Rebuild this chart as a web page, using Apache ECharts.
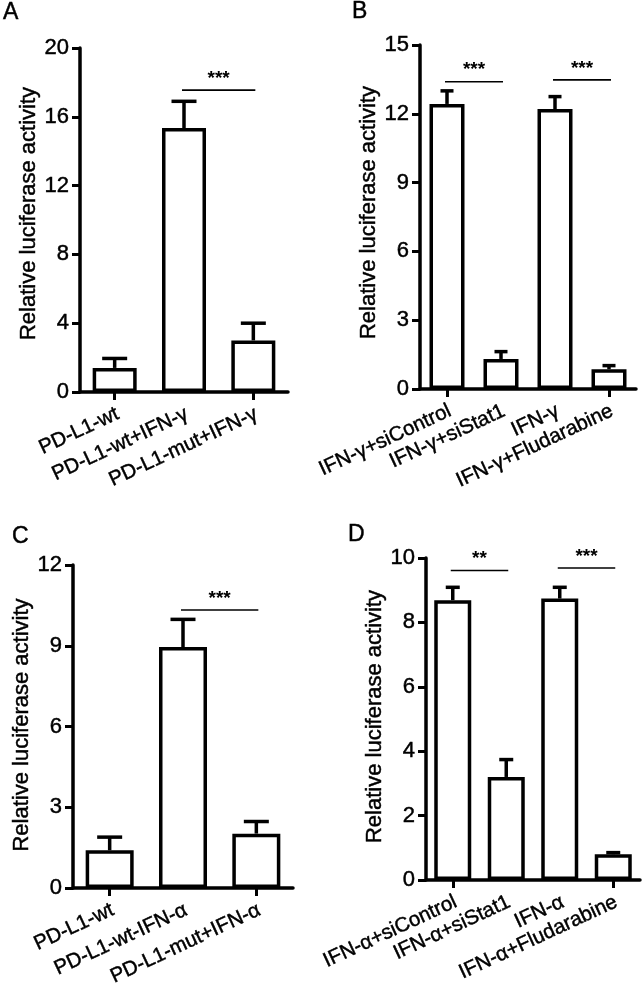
<!DOCTYPE html>
<html>
<head>
<meta charset="utf-8">
<script src="https://cdn.jsdelivr.net/npm/echarts@6/dist/echarts.min.js"></script>
<style>
html,body{margin:0;padding:0;background:#fff;}
#chart{width:643px;height:997px;}
</style>
</head>
<body>
<div id="chart"></div>
<script>
// ---- Data ----
const categoriesA = ['PD-L1-wt', 'PD-L1-wt+IFN-γ', 'PD-L1-mut+IFN-γ'];
const valuesA = [1.4, 15.35, 3.0];
const errorsA = [0.55, 1.55, 1.0];
const ticksA = [0, 4, 8, 12, 16, 20];

const categoriesB = ['IFN-γ+siControl', 'IFN-γ+siStat1', 'IFN-γ', 'IFN-γ+Fludarabine'];
const valuesB = [12.43, 1.31, 12.21, 0.86];
const errorsB = [0.57, 0.32, 0.54, 0.16];
const ticksB = [0, 3, 6, 9, 12, 15];

const categoriesC = ['PD-L1-wt', 'PD-L1-wt-IFN-α', 'PD-L1-mut+IFN-α'];
const valuesC = [1.40, 8.95, 2.02];
const errorsC = [0.49, 1.03, 0.45];
const ticksC = [0, 3, 6, 9, 12];

const categoriesD = ['IFN-α+siControl', 'IFN-α+siStat1', 'IFN-α', 'IFN-α+Fludarabine'];
const valuesD = [8.69, 3.20, 8.74, 0.80];
const errorsD = [0.40, 0.54, 0.35, 0.05];
const ticksD = [0, 2, 4, 6, 8, 10];

// significance brackets: [fromIndex, toIndex, level]
const sigA = [[1, 2, 17.55]];
const sigLabelsA = ['***'];
const sigB = [[0, 1, 13.4], [2, 3, 13.48]];
const sigLabelsB = ['***', '***'];
const sigC = [[1, 2, 10.33]];
const sigLabelsC = ['***'];
const sigD = [[0, 1, 9.61], [2, 3, 9.69]];
const sigLabelsD = ['**', '***'];

const yName = 'Relative luciferase activity';
const panelLetters = ['A', 'B', 'C', 'D'];

// ---- Build ----
const FONT = '"Liberation Sans", Arial, sans-serif';
const panels = [
  {cats: categoriesA, vals: valuesA, errs: errorsA, ticks: ticksA, sig: sigA, sigL: sigLabelsA,
   grid: {left: 80, top: 48, width: 208, height: 344}, barW: 44, cap: 25, nameGap: 37, nameShift: 13},
  {cats: categoriesB, vals: valuesB, errs: errorsB, ticks: ticksB, sig: sigB, sigL: sigLabelsB,
   grid: {left: 420, top: 45, width: 216, height: 344}, barW: 35, cap: 13, nameGap: 32, nameShift: 9},
  {cats: categoriesC, vals: valuesC, errs: errorsC, ticks: ticksC, sig: sigC, sigL: sigLabelsC,
   grid: {left: 73, top: 565, width: 220, height: 323}, barW: 48, cap: 25, nameGap: 28, nameShift: 3},
  {cats: categoriesD, vals: valuesD, errs: errorsD, ticks: ticksD, sig: sigD, sigL: sigLabelsD,
   grid: {left: 426, top: 558, width: 214, height: 322}, barW: 37, cap: 14, nameGap: 36, nameShift: 5}
];
const letterPos = [[3, 1], [352, 0], [12, 525], [348, 523]];
const heavy = {textBorderColor: '#000', textBorderWidth: 0.45};
const LABEL_ANGLE = 25 * Math.PI / 180;

const option = {
  backgroundColor: '#fff',
  animation: false,
  title: panelLetters.map((t, i) => ({
    text: t, left: letterPos[i][0], top: letterPos[i][1], padding: 0,
    textStyle: Object.assign({fontFamily: FONT, fontSize: 23, fontWeight: 'normal', color: '#000'}, heavy)
  })),
  grid: panels.map(p => p.grid),
  xAxis: panels.map((p, i) => ({
    type: 'category', gridIndex: i, data: p.cats,
    axisLine: {lineStyle: {color: '#000', width: 3.5}},
    axisTick: {show: true, alignWithLabel: true, length: 8, lineStyle: {color: '#000', width: 3}},
    axisLabel: {show: false}
  })),
  yAxis: panels.map((p, i) => {
    const mx = p.ticks[p.ticks.length - 1];
    return {
      type: 'value', gridIndex: i, min: p.ticks[0], max: mx, interval: p.ticks[1] - p.ticks[0],
      name: yName, nameLocation: 'middle', nameGap: p.nameGap, nameRotate: 90,
      nameTextStyle: Object.assign({fontFamily: FONT, fontSize: 22, color: '#000', padding: [0, 0, 0, p.nameShift]}, heavy),
      axisLine: {show: true, lineStyle: {color: '#000', width: 3.5}},
      axisTick: {show: true, length: 8, lineStyle: {color: '#000', width: 3}},
      axisLabel: Object.assign({fontFamily: FONT, fontSize: 22, color: '#000', margin: 11}, heavy),
      splitLine: {show: false}
    };
  }),
  series: []
};

panels.forEach((p, i) => {
  option.series.push({
    type: 'bar', xAxisIndex: i, yAxisIndex: i, data: p.vals, barWidth: p.barW,
    itemStyle: {color: '#fff', borderColor: '#000', borderWidth: 3.5},
    z: 2
  });
  // error bars (upper only)
  option.series.push({
    type: 'custom', xAxisIndex: i, yAxisIndex: i,
    data: p.vals.map((v, k) => [k, v, p.errs[k]]),
    z: 1,
    renderItem: (params, api) => {
      const x = api.value(0), v = api.value(1), e = api.value(2);
      const b = api.coord([x, v]);
      const t = api.coord([x, v + e]);
      const h = p.cap / 2;
      return {type: 'group', children: [
        {type: 'line', shape: {x1: b[0], y1: b[1], x2: t[0], y2: t[1]}, style: {stroke: '#000', lineWidth: 3.5}},
        {type: 'line', shape: {x1: t[0] - h, y1: t[1], x2: t[0] + h, y2: t[1]}, style: {stroke: '#000', lineWidth: 3.5}}
      ]};
    }
  });
  // significance bars
  option.series.push({
    type: 'custom', xAxisIndex: i, yAxisIndex: i,
    data: p.sig,
    z: 3,
    renderItem: (params, api) => {
      const a = api.coord([api.value(0), api.value(2)]);
      const c = api.coord([api.value(1), api.value(2)]);
      return {type: 'group', children: [
        {type: 'line', shape: {x1: a[0] - 2, y1: a[1], x2: c[0] + 2, y2: c[1]}, style: {stroke: '#000', lineWidth: 1.6}},
        {type: 'text', x: (a[0] + c[0]) / 2, y: a[1] - 2,
         style: {text: p.sigL[params.dataIndex], fill: '#000', font: 'bold 19px ' + FONT, textAlign: 'center', textVerticalAlign: 'bottom'}}
      ]};
    }
  });
  // rotated category labels, anchored at each category's tick
  option.series.push({
    type: 'custom', xAxisIndex: i, yAxisIndex: i,
    data: p.cats.map((c, k) => [k, p.ticks[0]]),
    z: 4,
    renderItem: (params, api) => {
      const pt = api.coord([api.value(0), api.value(1)]);
      return {type: 'text', x: pt[0] + 3, y: pt[1] + 21, rotation: LABEL_ANGLE,
        style: {text: p.cats[params.dataIndex], fill: '#000', stroke: '#000', lineWidth: 0.45,
                font: '20.5px ' + FONT, align: 'right', verticalAlign: 'middle'}};
    }
  });
});

const chart = echarts.init(document.getElementById('chart'), null, {renderer: 'canvas'});
chart.setOption(option);
</script>
</body>
</html>
